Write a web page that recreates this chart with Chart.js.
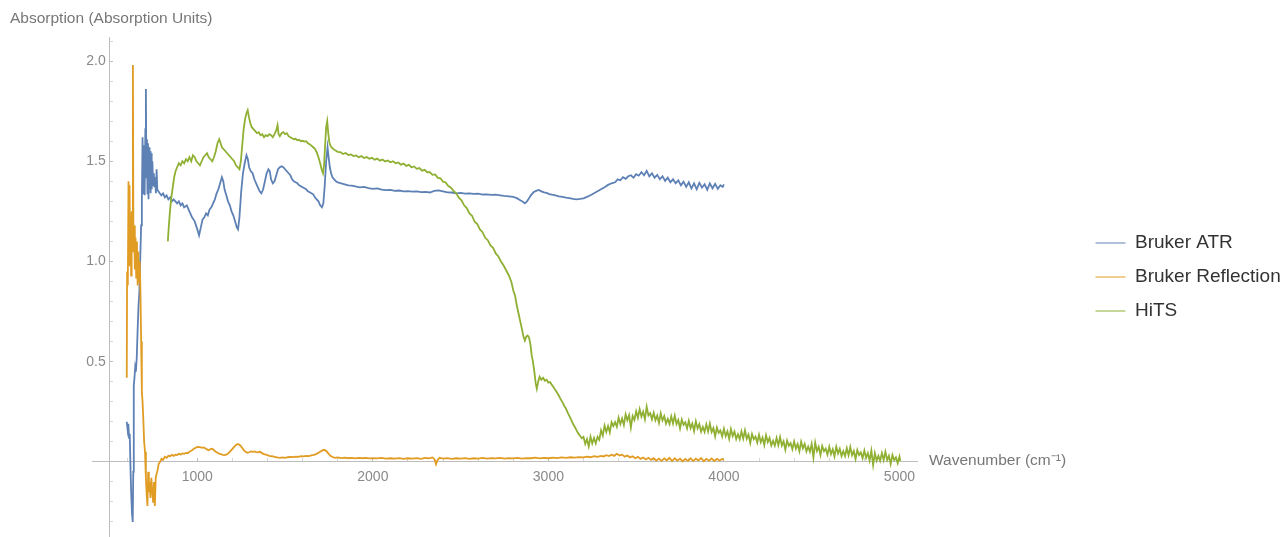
<!DOCTYPE html>
<html>
<head>
<meta charset="utf-8">
<script src="https://cdn.jsdelivr.net/npm/chart.js@4.4.1/dist/chart.umd.min.js"></script>
<style>
html,body{margin:0;padding:0;background:#ffffff;}
canvas{display:block;}
</style>
</head>
<body>
<canvas id="c" width="1283" height="537"></canvas>
<script>
// ---------------- data ----------------
const seriesNames = ['Bruker ATR', 'Bruker Reflection', 'HiTS'];
const xAxisTitle = 'Wavenumber (cm\u207B\u00B9)';
const yAxisTitle = 'Absorption (Absorption Units)';
const xTickLabels = [1000, 2000, 3000, 4000, 5000];
const yTickLabels = ['0.5', '1.0', '1.5', '2.0'];

const atrWavenumber = [598,603,607,611,615,619,623,628,632,635,638,642,646,650,655,660,665,670,675,680,684,688,692,696,700,704,707,710,713,716,719,722,725,728,731,734,737,740,744,748,752,756,760,764,768,772,778,786,795,805,815,825,835,845,855,865,875,885,895,905,915,925,940,955,970,985,1000,1010,1020,1030,1040,1050,1060,1070,1080,1090,1100,1110,1120,1130,1140,1148,1155,1165,1175,1185,1195,1205,1215,1225,1232,1240,1250,1260,1270,1280,1288,1295,1305,1315,1325,1335,1345,1355,1365,1375,1385,1395,1405,1413,1420,1430,1440,1450,1460,1470,1480,1490,1500,1510,1520,1530,1540,1550,1560,1570,1580,1590,1600,1610,1620,1630,1640,1650,1660,1670,1680,1690,1700,1710,1718,1726,1734,1742,1748,1755,1762,1770,1780,1790,1800,1820,1840,1860,1880,1900,1925,1950,1975,2000,2025,2050,2075,2100,2125,2150,2175,2200,2225,2250,2275,2300,2325,2350,2375,2400,2425,2450,2475,2500,2525,2550,2575,2600,2625,2650,2675,2700,2725,2750,2775,2800,2820,2840,2855,2866,2878,2890,2900,2915,2930,2945,2960,2975,2990,3005,3020,3040,3060,3080,3100,3120,3140,3160,3180,3200,3220,3240,3260,3280,3300,3320,3340,3360,3380,3395,3410,3425,3440,3455,3470,3485,3500,3515,3530,3545,3560,3575,3590,3605,3620,3635,3650,3665,3680,3695,3710,3725,3740,3755,3770,3785,3800,3815,3830,3845,3860,3875,3890,3905,3920,3935,3950,3965,3980,3993,4000];
const atrAbsorption = [0.20,0.16,0.19,0.12,0.14,-0.02,-0.15,-0.26,-0.30,-0.05,0.38,0.42,0.47,0.45,0.52,0.66,0.78,0.85,1.02,1.18,1.30,1.62,1.34,1.58,1.33,1.66,1.86,1.42,1.61,1.34,1.59,1.31,1.57,1.36,1.55,1.34,1.54,1.36,1.50,1.38,1.44,1.37,1.42,1.34,1.46,1.36,1.35,1.34,1.33,1.34,1.32,1.33,1.31,1.32,1.30,1.31,1.30,1.29,1.30,1.28,1.29,1.27,1.28,1.25,1.22,1.20,1.16,1.13,1.17,1.21,1.22,1.24,1.23,1.26,1.27,1.29,1.31,1.34,1.36,1.39,1.42,1.40,1.36,1.33,1.30,1.28,1.25,1.23,1.20,1.17,1.16,1.22,1.35,1.44,1.49,1.53,1.51,1.47,1.45,1.44,1.41,1.39,1.37,1.35,1.34,1.36,1.40,1.44,1.46,1.45,1.41,1.39,1.40,1.43,1.46,1.47,1.475,1.47,1.46,1.45,1.44,1.43,1.41,1.40,1.395,1.39,1.38,1.375,1.37,1.365,1.36,1.35,1.345,1.34,1.335,1.32,1.31,1.30,1.28,1.27,1.29,1.38,1.50,1.57,1.52,1.47,1.44,1.42,1.41,1.40,1.395,1.39,1.385,1.38,1.378,1.375,1.37,1.372,1.366,1.362,1.365,1.358,1.356,1.357,1.352,1.354,1.35,1.351,1.348,1.35,1.346,1.347,1.344,1.352,1.355,1.35,1.345,1.344,1.34,1.342,1.338,1.34,1.337,1.338,1.334,1.335,1.332,1.333,1.33,1.327,1.325,1.322,1.316,1.305,1.298,1.29,1.30,1.315,1.33,1.345,1.352,1.357,1.35,1.345,1.342,1.336,1.333,1.33,1.325,1.322,1.318,1.316,1.312,1.31,1.312,1.315,1.322,1.33,1.34,1.35,1.36,1.37,1.382,1.39,1.395,1.41,1.405,1.42,1.412,1.425,1.43,1.418,1.435,1.428,1.445,1.43,1.452,1.425,1.44,1.418,1.432,1.41,1.425,1.402,1.418,1.395,1.41,1.39,1.405,1.38,1.398,1.372,1.395,1.365,1.39,1.36,1.392,1.368,1.385,1.358,1.39,1.365,1.387,1.362,1.38,1.372,1.385];

const reflWavenumber = [598,600,604,608,611,614,617,620,623,626,629,633,636,640,644,648,652,656,660,664,668,672,676,680,684,688,692,697,702,707,712,716,720,724,728,733,738,743,748,753,758,763,768,774,780,788,796,805,815,825,835,845,855,865,875,885,895,905,915,925,935,945,955,965,975,985,995,1005,1015,1025,1035,1045,1055,1065,1075,1085,1095,1105,1115,1125,1135,1145,1155,1165,1175,1185,1195,1205,1215,1225,1235,1245,1255,1265,1275,1285,1295,1305,1315,1325,1335,1345,1355,1365,1375,1385,1395,1410,1425,1440,1455,1470,1485,1500,1515,1530,1545,1560,1575,1590,1605,1620,1635,1650,1665,1680,1695,1710,1722,1734,1746,1758,1770,1785,1800,1820,1840,1860,1880,1900,1920,1940,1960,1980,2000,2025,2050,2075,2100,2125,2150,2175,2200,2225,2250,2275,2300,2320,2340,2352,2360,2368,2380,2400,2425,2450,2475,2500,2525,2550,2575,2600,2625,2650,2675,2700,2725,2750,2775,2800,2825,2850,2875,2900,2925,2950,2975,3000,3025,3050,3075,3100,3125,3150,3175,3200,3220,3240,3260,3280,3300,3315,3330,3345,3360,3375,3390,3405,3420,3435,3450,3465,3480,3495,3510,3525,3540,3555,3570,3585,3600,3615,3630,3645,3660,3675,3690,3705,3720,3735,3750,3765,3780,3795,3810,3825,3840,3855,3870,3885,3900,3915,3930,3945,3960,3975,3990,4000];
const reflAbsorption = [0.42,0.95,0.88,1.40,0.98,1.38,1.02,1.22,0.93,1.25,1.05,1.98,1.12,1.18,0.96,1.12,0.92,1.10,0.88,1.05,0.90,1.00,0.85,0.60,0.35,0.30,0.22,0.10,0.05,-0.08,-0.17,-0.22,-0.05,-0.15,-0.10,-0.18,-0.08,-0.14,-0.20,-0.10,-0.22,-0.08,-0.06,-0.04,-0.01,0.00,0.015,0.01,0.025,0.02,0.03,0.028,0.035,0.03,0.036,0.034,0.04,0.037,0.042,0.04,0.045,0.043,0.05,0.055,0.062,0.068,0.072,0.075,0.074,0.07,0.072,0.068,0.062,0.058,0.064,0.066,0.058,0.05,0.045,0.04,0.038,0.035,0.034,0.036,0.042,0.05,0.06,0.07,0.08,0.087,0.088,0.082,0.07,0.058,0.05,0.045,0.048,0.052,0.05,0.052,0.049,0.047,0.05,0.046,0.04,0.037,0.035,0.03,0.028,0.025,0.022,0.02,0.022,0.02,0.023,0.025,0.024,0.026,0.025,0.028,0.027,0.03,0.029,0.032,0.035,0.04,0.048,0.056,0.06,0.055,0.042,0.03,0.024,0.02,0.022,0.019,0.021,0.018,0.02,0.017,0.02,0.018,0.02,0.017,0.019,0.017,0.02,0.016,0.018,0.016,0.019,0.015,0.018,0.016,0.019,0.015,0.02,0.017,0.022,0.012,-0.012,0.008,0.02,0.016,0.019,0.015,0.018,0.016,0.019,0.015,0.018,0.016,0.02,0.016,0.019,0.017,0.02,0.016,0.019,0.017,0.02,0.016,0.019,0.018,0.021,0.017,0.02,0.018,0.021,0.019,0.022,0.02,0.023,0.021,0.024,0.022,0.026,0.023,0.028,0.025,0.03,0.027,0.033,0.029,0.036,0.03,0.04,0.032,0.036,0.026,0.032,0.022,0.028,0.018,0.025,0.015,0.022,0.012,0.02,0.01,0.018,0.006,0.016,0.005,0.017,0.008,0.02,0.004,0.018,0.006,0.016,0.002,0.015,0.005,0.018,0.004,0.016,0.007,0.019,0.003,0.015,0.006,0.017,0.004,0.015,0.007,0.014,0.01];

const hitsWavenumber = [832,838,845,852,860,868,876,885,895,905,915,925,935,945,955,965,975,985,995,1005,1015,1025,1035,1045,1055,1065,1075,1085,1095,1105,1115,1125,1133,1140,1150,1160,1170,1180,1190,1200,1210,1220,1230,1240,1248,1256,1264,1272,1280,1287,1294,1302,1310,1320,1330,1340,1350,1360,1370,1380,1390,1400,1410,1420,1430,1440,1450,1457,1463,1470,1480,1490,1500,1510,1520,1530,1540,1550,1560,1570,1580,1590,1600,1610,1620,1630,1640,1650,1660,1670,1680,1690,1700,1708,1716,1722,1728,1734,1740,1746,1752,1760,1770,1780,1790,1800,1815,1830,1845,1860,1875,1890,1905,1920,1935,1950,1965,1980,1995,2010,2025,2040,2055,2070,2085,2100,2115,2130,2145,2160,2175,2190,2205,2220,2235,2250,2265,2280,2295,2310,2325,2340,2355,2370,2385,2400,2415,2430,2445,2460,2475,2490,2505,2520,2535,2550,2565,2580,2595,2610,2625,2640,2655,2670,2685,2700,2715,2730,2745,2760,2775,2790,2800,2810,2820,2830,2840,2850,2858,2866,2874,2882,2890,2898,2905,2912,2920,2928,2934,2942,2950,2960,2970,2980,2990,3000,3010,3020,3030,3040,3050,3060,3070,3080,3090,3100,3110,3120,3130,3140,3150,3160,3170,3180,3190,3200,3210,3220,3230,3240,3250,3260,3270,3280,3290,3300,3310,3320,3330,3340,3350,3360,3370,3380,3390,3400,3410,3420,3430,3440,3450,3460,3470,3480,3490,3500,3510,3520,3530,3540,3550,3560,3570,3580,3590,3600,3610,3620,3630,3640,3650,3660,3670,3680,3690,3700,3710,3720,3730,3740,3750,3760,3770,3780,3790,3800,3810,3820,3830,3840,3850,3860,3870,3880,3890,3900,3910,3920,3930,3940,3950,3960,3970,3980,3990,4000,4010,4020,4030,4040,4050,4060,4070,4080,4090,4100,4110,4120,4130,4140,4150,4160,4170,4180,4190,4200,4210,4220,4230,4240,4250,4260,4270,4280,4290,4300,4310,4320,4330,4340,4350,4360,4370,4380,4390,4400,4410,4420,4430,4440,4450,4460,4470,4480,4490,4500,4510,4520,4530,4540,4550,4560,4570,4580,4590,4600,4610,4620,4630,4640,4650,4660,4670,4680,4690,4700,4710,4720,4730,4740,4750,4760,4770,4780,4790,4800,4810,4820,4830,4840,4850,4860,4870,4880,4890,4900,4910,4920,4930,4940,4950,4960,4970,4980,4990,5000,5005];
const hitsAbsorption = [1.10,1.18,1.26,1.32,1.37,1.42,1.45,1.47,1.49,1.48,1.50,1.49,1.51,1.50,1.52,1.50,1.53,1.52,1.50,1.49,1.48,1.50,1.52,1.53,1.54,1.52,1.51,1.50,1.52,1.55,1.59,1.61,1.59,1.57,1.56,1.55,1.54,1.53,1.52,1.51,1.50,1.48,1.47,1.46,1.50,1.58,1.66,1.71,1.74,1.755,1.72,1.69,1.67,1.66,1.65,1.64,1.645,1.63,1.635,1.62,1.63,1.625,1.635,1.63,1.62,1.635,1.655,1.68,1.635,1.625,1.64,1.645,1.635,1.64,1.625,1.62,1.615,1.61,1.612,1.605,1.607,1.60,1.602,1.598,1.60,1.59,1.585,1.578,1.57,1.562,1.545,1.52,1.49,1.46,1.44,1.48,1.58,1.67,1.70,1.64,1.595,1.575,1.565,1.558,1.552,1.547,1.546,1.536,1.541,1.531,1.534,1.526,1.529,1.52,1.526,1.516,1.521,1.512,1.517,1.508,1.513,1.503,1.509,1.499,1.504,1.495,1.50,1.49,1.494,1.483,1.488,1.477,1.482,1.47,1.474,1.462,1.466,1.453,1.457,1.445,1.446,1.432,1.434,1.417,1.415,1.398,1.394,1.376,1.368,1.352,1.34,1.318,1.305,1.28,1.266,1.24,1.228,1.198,1.186,1.16,1.146,1.118,1.106,1.08,1.068,1.04,1.025,1.0,0.98,0.955,0.93,0.895,0.855,0.83,0.78,0.74,0.70,0.66,0.625,0.605,0.625,0.63,0.62,0.585,0.53,0.50,0.45,0.39,0.365,0.40,0.425,0.41,0.42,0.405,0.41,0.395,0.398,0.384,0.372,0.358,0.345,0.33,0.312,0.298,0.28,0.266,0.246,0.228,0.21,0.19,0.175,0.158,0.142,0.13,0.118,0.125,0.089,0.113,0.077,0.126,0.092,0.119,0.092,0.125,0.11,0.157,0.131,0.181,0.149,0.179,0.147,0.198,0.179,0.198,0.175,0.22,0.188,0.216,0.184,0.237,0.207,0.233,0.171,0.229,0.209,0.252,0.22,0.263,0.226,0.25,0.212,0.275,0.232,0.243,0.212,0.245,0.208,0.231,0.194,0.242,0.207,0.228,0.191,0.214,0.189,0.227,0.191,0.231,0.189,0.209,0.167,0.211,0.185,0.197,0.167,0.205,0.168,0.191,0.154,0.202,0.167,0.188,0.151,0.174,0.149,0.187,0.151,0.191,0.149,0.169,0.127,0.171,0.145,0.157,0.127,0.165,0.128,0.152,0.115,0.164,0.129,0.151,0.114,0.138,0.113,0.152,0.116,0.157,0.115,0.136,0.094,0.139,0.113,0.126,0.096,0.135,0.098,0.121,0.084,0.133,0.098,0.119,0.082,0.105,0.081,0.119,0.083,0.124,0.082,0.103,0.061,0.106,0.08,0.093,0.063,0.102,0.066,0.089,0.053,0.101,0.067,0.089,0.052,0.076,0.051,0.09,0.022,0.096,0.054,0.075,0.034,0.079,0.053,0.066,0.036,0.075,0.039,0.063,0.027,0.076,0.042,0.065,0.029,0.053,0.029,0.068,0.033,0.074,0.033,0.054,0.014,0.059,0.034,0.047,0.018,0.057,0.02,0.044,0.007,0.056,-0.016,0.043,0.006,0.03,0.005,0.044,0.009,0.05,0.009,0.03,-0.011,0.034,0.009,0.022,-0.007,0.027,0.005];

// ---------------- layout constants ----------------
const FONT = '"Liberation Sans", Arial, Helvetica, sans-serif';
const W = 1283, H = 537;
const plotLeft = 92, plotRight = 917, plotTop = 37, plotBottom = 536;
const legendFont = 19, legendPad = 15, legendBoxW = 30;
const legendLeft = 1080.5, legendFirstTop = 233.5;

const mctx = document.createElement('canvas').getContext('2d');
mctx.font = legendFont + 'px ' + FONT;
const legendWidth = 10 + legendPad + legendBoxW + legendFont / 2 +
  Math.max(...seriesNames.map(s => mctx.measureText(s).width));
const padRight = Math.max(0, W - plotRight - legendWidth);

function toPoints(xs, ys) { return xs.map((x, i) => ({x: x, y: ys[i]})); }

const axisColor = '#bdbdbd';
const minorTickColor = '#d6d6d6';
const tickLabelColor = '#8a8a8a';

const legendPlacer = {
  id: 'legendPlacer',
  afterLayout(chart) {
    const lg = chart.legend;
    if (!lg) return;
    const dx = legendLeft - lg.left;
    lg.left += dx; lg.right += dx;
    const colH = (lg.columnSizes && lg.columnSizes[0]) ? lg.columnSizes[0].height : 0;
    const cur = (lg.top + legendPad + lg.bottom - colH) / 2;
    const dy = legendFirstTop - cur;
    lg.top += dy; lg.bottom += dy;
  }
};

const axisTitles = {
  id: 'axisTitles',
  afterDraw(chart) {
    const {ctx, chartArea, scales} = chart;
    ctx.save();
    ctx.fillStyle = '#777777';
    ctx.font = '15.5px ' + FONT;
    ctx.textBaseline = 'middle';
    ctx.textAlign = 'left';
    ctx.fillText(yAxisTitle, chartArea.left - 82, chartArea.top - 18);
    const y0 = scales.y.getPixelForValue(0);
    ctx.fillText(xAxisTitle, chartArea.right + 12, y0 - 1);
    ctx.restore();
  }
};

const datasetColors = ['#5E81B5', '#E19C24', '#8FB032'];

new Chart(document.getElementById('c'), {
  type: 'line',
  data: {
    datasets: [
      {label: seriesNames[0], data: toPoints(atrWavenumber, atrAbsorption), borderColor: datasetColors[0], backgroundColor: datasetColors[0], order: 3},
      {label: seriesNames[1], data: toPoints(reflWavenumber, reflAbsorption), borderColor: datasetColors[1], backgroundColor: datasetColors[1], order: 2},
      {label: seriesNames[2], data: toPoints(hitsWavenumber, hitsAbsorption), borderColor: datasetColors[2], backgroundColor: datasetColors[2], order: 1}
    ]
  },
  options: {
    responsive: false,
    animation: false,
    devicePixelRatio: 1,
    font: {family: FONT},
    layout: {padding: {left: plotLeft, right: padRight, top: plotTop, bottom: H - plotBottom}},
    elements: {
      point: {radius: 0, hoverRadius: 0},
      line: {borderWidth: 1.8, tension: 0, fill: false}
    },
    scales: {
      x: {
        type: 'linear',
        min: 400, max: 5100,
        position: {y: 0},
        afterFit: (s) => { s.paddingLeft = 0; s.paddingRight = 0; s.paddingTop = 0; s.paddingBottom = 0; },
        border: {display: true, color: axisColor, width: 1},
        grid: {
          drawOnChartArea: false, drawTicks: true, tickLength: -4,
          tickColor: (c) => (c.tick && c.tick.value < 500) ? 'rgba(0,0,0,0)' : (c.tick && xTickLabels.includes(c.tick.value) ? axisColor : minorTickColor)
        },
        ticks: {
          stepSize: 200, maxTicksLimit: 100, autoSkip: false, includeBounds: false,
          maxRotation: 0, minRotation: 0, padding: 11,
          color: tickLabelColor, font: {family: FONT, size: 14},
          callback: (v) => xTickLabels.includes(v) ? String(v) : ''
        }
      },
      y: {
        type: 'linear',
        min: -0.37, max: 2.12,
        position: {x: 500},
        afterFit: (s) => { s.paddingLeft = 0; s.paddingRight = 0; s.paddingTop = 0; s.paddingBottom = 0; },
        border: {display: true, color: axisColor, width: 1},
        grid: {
          drawOnChartArea: false, drawTicks: true, tickLength: -4,
          tickColor: (c) => {
            if (!c.tick) return minorTickColor;
            const r = Math.round(c.tick.value * 10);
            return (r % 5 === 0) ? axisColor : minorTickColor;
          }
        },
        ticks: {
          stepSize: 0.1, maxTicksLimit: 100, autoSkip: false, includeBounds: false,
          color: tickLabelColor, font: {family: FONT, size: 14},
          callback: (v) => {
            const s = (Math.round(v * 10) / 10).toFixed(1);
            return yTickLabels.includes(s) ? s + ' ' : '';
          }
        }
      }
    },
    plugins: {
      title: {display: false},
      tooltip: {enabled: false},
      legend: {
        display: true,
        position: 'right',
        labels: {
          usePointStyle: true, pointStyle: 'line', pointStyleWidth: legendBoxW, boxWidth: legendBoxW,
          padding: legendPad, color: '#333333',
          font: {family: FONT, size: legendFont},
          sort: (a, b) => a.datasetIndex - b.datasetIndex
        }
      }
    }
  },
  plugins: [legendPlacer, axisTitles]
});
</script>
</body>
</html>
